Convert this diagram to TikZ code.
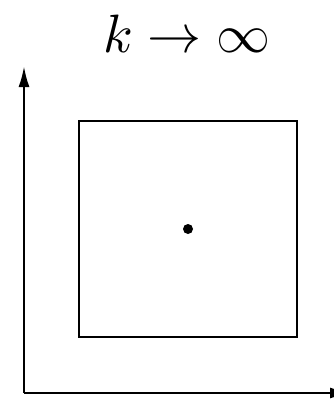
\documentclass[tikz,border=0pt]{standalone}
\usetikzlibrary{arrows.meta}
\begin{document}
\begin{tikzpicture}[x=1pt,y=-1pt,
  axis/.style={line width=2.4pt,-{Latex[length=21pt,width=11pt]}},
  box/.style={draw,line width=2pt}]
\useasboundingbox (0,0) rectangle (334,399);
\coordinate (o) at (24,393);
\coordinate (ytip) at (24,66);
\coordinate (xtip) at (351,393);
\draw[axis] (o) -- (ytip);
\draw[axis] (o) -- (xtip);
\draw[box] (79,121) rectangle (297,337);
\coordinate (c) at (188,229);
\fill (c) circle (5pt);
\node[anchor=base,inner sep=0pt] (lbl) at (187,52) {\scalebox{5.4}{$k\to\infty$}};
\end{tikzpicture}
\end{document}
